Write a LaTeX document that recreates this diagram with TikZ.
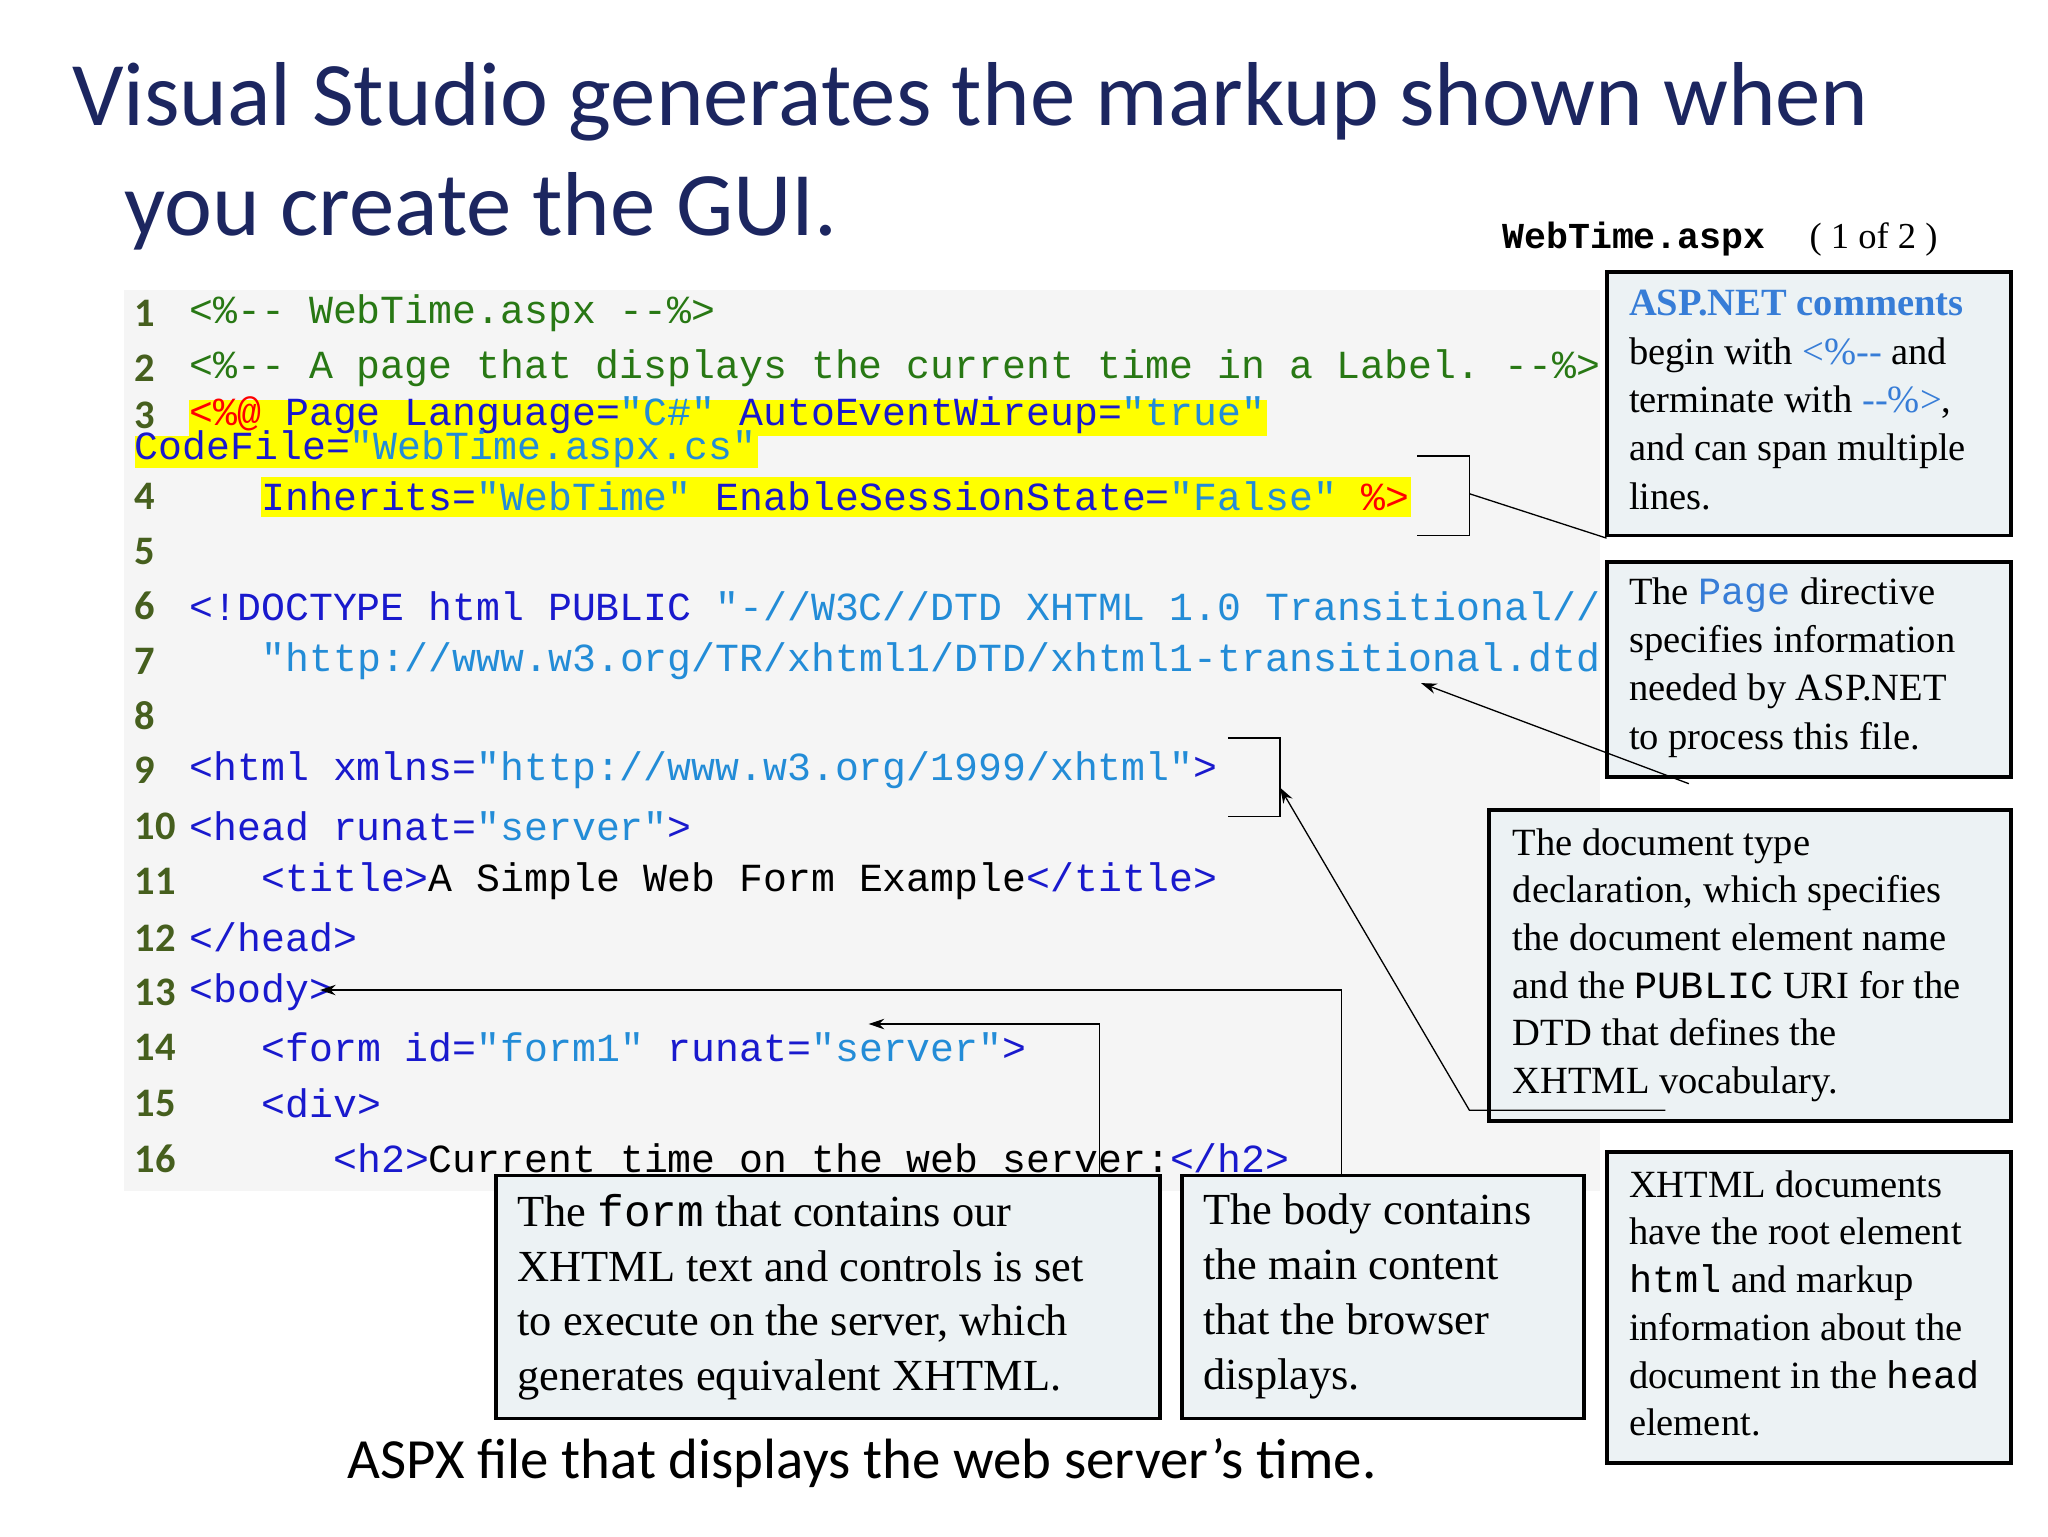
\documentclass[tikz,border=0pt]{standalone}
\usepackage{fontspec}
\setmainfont{Liberation Serif}
\setmonofont{Liberation Mono}
\newfontfamily\sansf{Carlito}
\usetikzlibrary{arrows.meta}
\definecolor{navy}{RGB}{28,38,96}
\definecolor{cmt}{RGB}{40,120,20}
\definecolor{tagb}{RGB}{25,25,205}
\definecolor{strb}{RGB}{35,140,215}
\definecolor{lnum}{RGB}{70,95,30}
\definecolor{boxf}{RGB}{236,242,244}
\definecolor{hl}{RGB}{255,255,0}
\definecolor{aspb}{RGB}{55,125,215}
\begin{document}
\begin{tikzpicture}[x=1pt,y=-1pt,
  code/.style={anchor=west,inner sep=0pt,font=\fontsize{30.5}{32}\ttfamily},
  num/.style={anchor=west,inner sep=0pt,font=\fontsize{31}{32}\sansf\bfseries,text=lnum},
  cbox/.style={draw=black,line width=3pt,fill=boxf},
  btxt/.style={anchor=north west,inner sep=0pt,align=left},
  con/.style={line width=1pt},
  arr/.style={con,-{Stealth[length=12pt,width=8pt]}}]
\useasboundingbox (0,0) rectangle (1568,1176);
\fill[white] (0,0) rectangle (1568,1176);
\node[anchor=west,inner sep=0pt,text=navy,font=\fontsize{69.5}{72}\sansf] (t1) at (55,78) {Visual Studio generates the markup shown when};
\node[anchor=west,inner sep=0pt,text=navy,font=\fontsize{69.5}{72}\sansf] (t2) at (95,162) {you create the GUI.};
\node[anchor=west,inner sep=0pt] (wt) at (1150,183) {\fontsize{28}{30}\ttfamily\bfseries WebTime.aspx\ \ \rmfamily\mdseries( 1 of 2 )};
\fill[black!4] (95,222) rectangle (1225,912);
\fill[hl] (145,306) rectangle (970,334);
\fill[hl] (103,334) rectangle (580,358);
\fill[hl] (200,365) rectangle (1080,396);
\foreach \n/\y in {1/240,2/282,3/318,4/380,5/422,6/464,7/506,8/548,9/590,10/633,11/675,12/718,13/760,14/802,15/845,16/887}
  \node[num] (n\n) at (103,\y) {\n};
\begin{scope}
\clip (95,222) rectangle (1225,912);
\node[code,text=cmt] (c1) at (145,240) {<\%-{}- WebTime.aspx -{}-\%>};
\node[code,text=cmt] (c2) at (145,282) {<\%-{}- A page that displays the current time in a Label. -{}-\%>};
\node[code] (c3) at (145,318) {\textcolor{red}{<\%@} \textcolor{tagb}{Page Language=}\textcolor{strb}{"C\#"} \textcolor{tagb}{AutoEventWireup=}\textcolor{strb}{"true"}};
\node[code] (c3b) at (103,344) {\textcolor{tagb}{CodeFile=}\textcolor{strb}{"WebTime.aspx.cs"}};
\node[code] (c4) at (200,380) {\textcolor{tagb}{Inherits=}\textcolor{strb}{"WebTime"} \textcolor{tagb}{EnableSessionState=}\textcolor{strb}{"False"} \textcolor{red}{\%>}};
\node[code] (c6) at (145,464) {\textcolor{tagb}{<!DOCTYPE html PUBLIC} \textcolor{strb}{"-//W3C//DTD XHTML 1.0 Transitional//EN"}};
\node[code,text=strb] (c7) at (200,506) {"http://www.w3.org/TR/xhtml1/DTD/xhtml1-transitional.dtd">};
\node[code] (c9) at (145,590) {\textcolor{tagb}{<html xmlns=}\textcolor{strb}{"http://www.w3.org/1999/xhtml"}\textcolor{tagb}{>}};
\node[code] (c10) at (145,633) {\textcolor{tagb}{<head runat=}\textcolor{strb}{"server"}\textcolor{tagb}{>}};
\node[code] (c11) at (200,675) {\textcolor{tagb}{<title>}A Simple Web Form Example\textcolor{tagb}{</title>}};
\node[code,text=tagb] (c12) at (145,718) {</head>};
\node[code,text=tagb] (c13) at (145,760) {<body>};
\node[code] (c14) at (200,802) {\textcolor{tagb}{<form id=}\textcolor{strb}{"form1"} \textcolor{tagb}{runat=}\textcolor{strb}{"server"}\textcolor{tagb}{>}};
\node[code,text=tagb] (c15) at (200,845) {<div>};
\node[code] (c16) at (255,887) {\textcolor{tagb}{<h2>}Current time on the web server:\textcolor{tagb}{</h2>}};
\end{scope}
% boxes
\draw[cbox] (1230,208) rectangle (1540,410);
\node[btxt,font=\fontsize{29.5}{37}\selectfont] (b1) at (1247,222) {\textcolor{aspb}{\textbf{ASP.NET comments}}\\begin with \textcolor{aspb}{<\%-{}-} and\\terminate with \textcolor{aspb}{-{}-\%>},\\and can span multiple\\lines.};
\draw[cbox] (1230,430) rectangle (1540,595);
\node[btxt,font=\fontsize{29.5}{37}\selectfont] (b2) at (1247,442) {The \textcolor{aspb}{\ttfamily Page} directive\\specifies information\\needed by ASP.NET\\to process this file.};
\draw[cbox] (1140,620) rectangle (1540,858);
\node[btxt,font=\fontsize{29.5}{36.5}\selectfont] (b3) at (1158,634) {The document type\\declaration, which specifies\\the document element name\\and the {\ttfamily PUBLIC} URI for the\\DTD that defines the\\XHTML vocabulary.};
\draw[cbox] (1230,882) rectangle (1540,1120);
\node[btxt,font=\fontsize{29.5}{36.5}\selectfont] (b4) at (1247,896) {XHTML documents\\have the root element\\{\ttfamily html} and markup\\information about the\\document in the {\ttfamily head}\\element.};
\draw[cbox] (380,900) rectangle (888,1086);
\node[btxt,font=\fontsize{34}{42}\selectfont] (b5) at (396,914) {The {\ttfamily form} that contains our\\XHTML text and controls is set\\to execute on the server, which\\generates equivalent XHTML.};
\draw[cbox] (905,900) rectangle (1213,1086);
\node[btxt,font=\fontsize{34}{42}\selectfont] (b6) at (921,914) {The body contains\\the main content\\that the browser\\displays.};
\node[anchor=center,inner sep=0pt,font=\fontsize{43.5}{46}\sansf] (cap) at (660,1120) {ASPX file that displays the web server’s time.};
% connectors
\coordinate (k1) at (1125,378);
\draw[con] (1085,349) -- (1125,349) -- (1125,410) -- (1085,410);
\draw[con] (k1) -- (1230,412);
\coordinate (k2) at (1293,600);
\coordinate (k2e) at (1088,523);
\draw[arr] (k2) -- (k2e);
\draw[con] (940,565) -- (980,565) -- (980,625) -- (940,625);
\coordinate (k3e) at (980,603);
\draw[arr] (1275,850) -- (1125,850) -- (k3e);
\draw[arr] (1027,900) -- (1027,758) -- (245,758);
\draw[arr] (842,900) -- (842,784) -- (665,784);
\end{tikzpicture}
\end{document}
